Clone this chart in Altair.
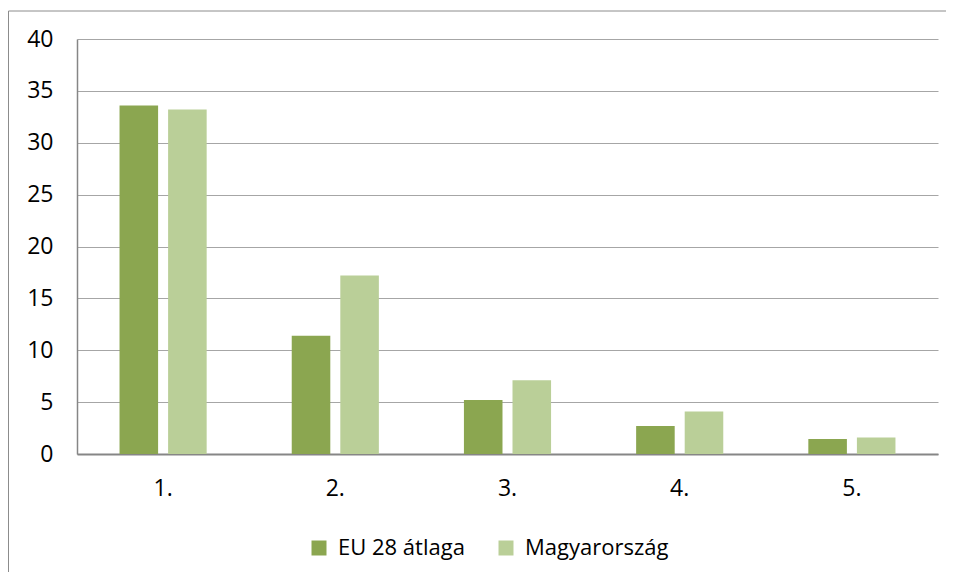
import altair as alt
import pandas as pd

categories = ["1.", "2.", "3.", "4.", "5."]
series_names = ["EU 28 átlaga", "Magyarország"]
eu_values = [33.6, 11.4, 5.2, 2.7, 1.45]
hu_values = [33.2, 17.2, 7.1, 4.1, 1.6]
colors = ["#8BA650", "#BACF98"]
y_ticks = [0, 5, 10, 15, 20, 25, 30, 35, 40]

rows = []
for c, e, h in zip(categories, eu_values, hu_values):
    rows.append({"cat": c, "series": series_names[0], "value": e})
    rows.append({"cat": c, "series": series_names[1], "value": h})
df = pd.DataFrame(rows)

FONT = "Open Sans"

bars = alt.Chart(df).mark_bar().encode(
    x=alt.X("cat:N", sort=categories, title=None,
            scale=alt.Scale(paddingInner=0.494, paddingOuter=0.247),
            axis=alt.Axis(labelAngle=0, labelFontSize=23, labelFont=FONT,
                          labelColor="#000000", labelPadding=23, ticks=False,
                          domainColor="#868686", domainWidth=2)),
    xOffset=alt.XOffset("series:N", sort=series_names,
                        scale=alt.Scale(paddingInner=0.206, paddingOuter=0)),
    y=alt.Y("value:Q", title=None,
            scale=alt.Scale(domain=[0, 40], nice=False),
            axis=alt.Axis(values=y_ticks, labelFontSize=23, labelFont=FONT,
                          labelColor="#000000", labelPadding=24, ticks=False,
                          domainColor="#868686", domainWidth=1.5,
                          grid=True, gridColor="#A6A6A6", gridWidth=1)),
    color=alt.Color("series:N", sort=series_names,
                    scale=alt.Scale(domain=series_names, range=colors),
                    legend=alt.Legend(title=None, orient="none", direction="horizontal",
                                      legendX=231, legendY=498,
                                      symbolType="square", symbolSize=225,
                                      symbolStrokeWidth=0, labelFontSize=22,
                                      labelFont=FONT, labelColor="#000000",
                                      labelOffset=8, columnPadding=30,
                                      labelLimit=400)),
)

frame_df = pd.DataFrame({"a": [0]})
frame_left = alt.Chart(frame_df).mark_rule(color="#8C8C8C", strokeWidth=1).encode(
    x=alt.value(-68.5), y=alt.value(-28), y2=alt.value(700)
)
frame_top = alt.Chart(frame_df).mark_rule(color="#8C8C8C", strokeWidth=1).encode(
    y=alt.value(-28), x=alt.value(-68.5), x2=alt.value(1100)
)

chart = alt.layer(bars, frame_left, frame_top).properties(
    width=861, height=415,
    autosize=alt.AutoSizeParams(type="none"),
    padding={"left": 69, "top": 31, "right": 8, "bottom": 118},
).configure_view(stroke=None).configure_axis(labelFont=FONT)

chart.save("out.html", embed_options={"renderer": "svg", "actions": False})
